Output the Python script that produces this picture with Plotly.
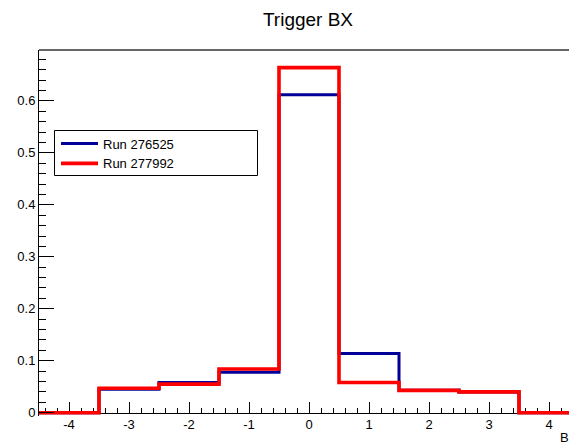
import plotly.graph_objects as go

# Bin edges of the BX histogram (unit-width bins centred on integers)
bin_edges = [-4.5, -3.5, -2.5, -1.5, -0.5, 0.5, 1.5, 2.5, 3.5, 4.5]

# Normalised bin contents for each run
run_276525 = [0.0, 0.045, 0.058, 0.078, 0.612, 0.114, 0.043, 0.040, 0.0]
run_277992 = [0.0, 0.047, 0.055, 0.084, 0.664, 0.058, 0.043, 0.040, 0.0]

series_names = ["Run 276525", "Run 277992"]
series_colors = ["#000099", "#ff0000"]

x_tick_vals = [-4, -3, -2, -1, 0, 1, 2, 3, 4]
x_tick_text = ["-4", "-3", "-2", "-1", "0", "1", "2", "3", "4"]
y_tick_vals = [0, 0.1, 0.2, 0.3, 0.4, 0.5, 0.6]
y_tick_text = ["0", "0.1", "0.2", "0.3", "0.4", "0.5", "0.6"]

FONT = "Liberation Sans, Arial, Helvetica, sans-serif"

# plot area spans 50..416 px; the x axis itself sits a little above its bottom
# so the outline along zero is not clipped
PLOT_TOP, PLOT_BOTTOM, AXIS_Y = 50, 416, 412.7
PLOT_H = PLOT_BOTTOM - PLOT_TOP
Y_MAX = 0.698
px_per_unit = (AXIS_Y - PLOT_TOP) / Y_MAX
y_min = -(PLOT_BOTTOM - AXIS_Y) / px_per_unit

fig = go.Figure()
for name, vals, col, w in zip(series_names, [run_276525, run_277992], series_colors, [3, 3.6]):
    # step outline: repeat the last bin content at the upper edge
    fig.add_trace(go.Scatter(
        x=bin_edges,
        y=vals + [vals[-1]],
        mode="lines",
        line=dict(shape="hv", color=col, width=w),
        name=name,
    ))

fig.update_layout(
    width=569,
    height=446,
    margin=dict(l=39, r=0, t=PLOT_TOP, b=446 - PLOT_BOTTOM),
    paper_bgcolor="white",
    plot_bgcolor="white",
    font=dict(family=FONT, size=13, color="black"),
    title=dict(
        text="Trigger BX",
        font=dict(family=FONT, size=19, color="black"),
        xref="container", x=308 / 569, xanchor="center",
        yref="container", y=1 - 19 / 446, yanchor="middle",
    ),
    showlegend=True,
    legend=dict(
        x=(56 - 39) / 530, xanchor="left",
        y=1 - (128.5 - PLOT_TOP) / PLOT_H, yanchor="top",
        bgcolor="rgba(0,0,0,0)",
        borderwidth=0,
        itemwidth=37,
        font=dict(family=FONT, size=13, color="black"),
        tracegroupgap=0,
    ),
    xaxis=dict(
        range=[-4.5, -4.5 + 530 / 60],
        anchor="free", position=(PLOT_BOTTOM - AXIS_Y) / PLOT_H,
        layer="below traces",
        showgrid=False, zeroline=False,
        showline=True, linecolor="black", linewidth=1,
        tickmode="array", tickvals=x_tick_vals, ticktext=x_tick_text,
        ticks="inside", ticklen=11, tickcolor="black", tickwidth=1,
        minor=dict(dtick=0.2, tick0=0, ticks="inside", ticklen=5,
                   tickcolor="black", tickwidth=1, showgrid=False),
        tickfont=dict(family=FONT, size=13, color="black"),
    ),
    yaxis=dict(
        range=[y_min, Y_MAX],
        showgrid=False, zeroline=False,
        showline=True, linecolor="black", linewidth=1,
        tickmode="array", tickvals=y_tick_vals, ticktext=y_tick_text,
        ticks="inside", ticklen=15, tickcolor="black", tickwidth=1,
        minor=dict(dtick=0.02, tick0=0, ticks="inside", ticklen=7,
                   tickcolor="black", tickwidth=1, showgrid=False),
        tickfont=dict(family=FONT, size=13, color="black"),
    ),
    shapes=[
        # top of the frame
        dict(type="line", xref="paper", yref="paper", x0=0, x1=1, y0=1, y1=1,
             line=dict(color="#333333", width=1.5)),
        # legend box
        dict(type="rect", xref="paper", yref="paper",
             x0=(54.5 - 39) / 530, x1=(257.5 - 39) / 530,
             y0=1 - (175.5 - PLOT_TOP) / PLOT_H, y1=1 - (130.5 - PLOT_TOP) / PLOT_H,
             line=dict(color="black", width=1), fillcolor="white", layer="above"),
    ],
    annotations=[
        dict(text="BX", xref="paper", yref="paper",
             x=(580 - 39) / 530, xanchor="right",
             y=-(437 - PLOT_BOTTOM) / PLOT_H, yanchor="middle",
             showarrow=False, font=dict(family=FONT, size=13, color="black")),
    ],
)

fig.write_html("out.html")
